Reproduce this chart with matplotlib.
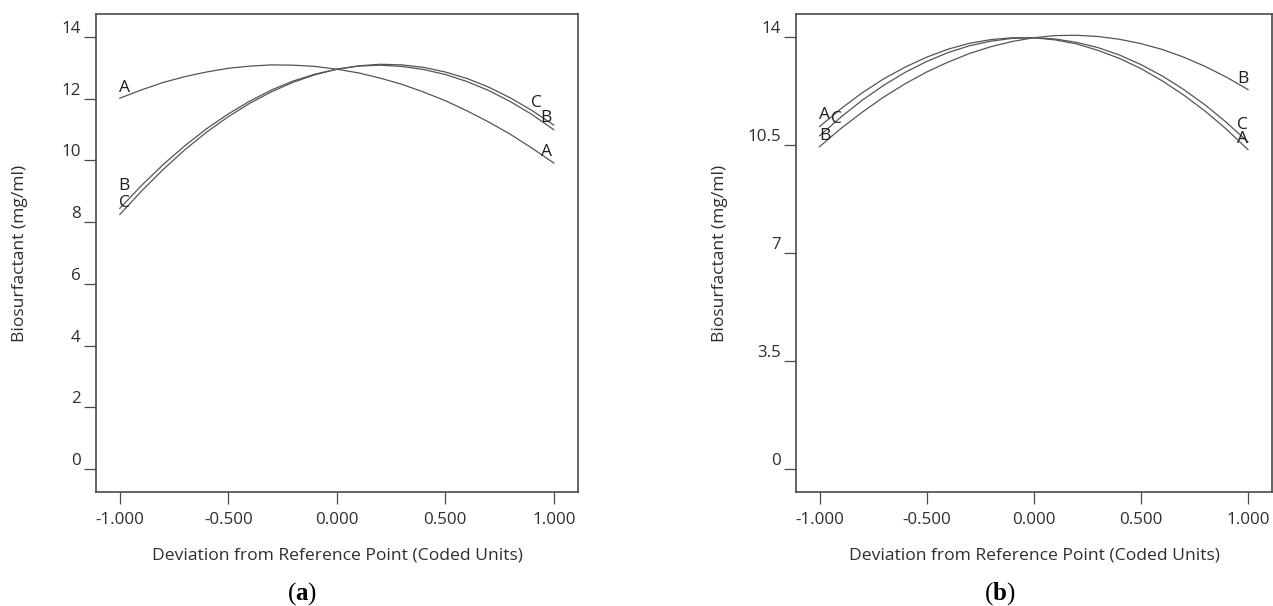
import numpy as np
import matplotlib
matplotlib.use('Agg')
import matplotlib.pyplot as plt

plt.rcParams['font.family'] = ['Open Sans', 'DejaVu Sans']
plt.rcParams['mathtext.fontset'] = 'custom'
plt.rcParams['mathtext.rm'] = 'Liberation Serif'
plt.rcParams['mathtext.bf'] = 'Liberation Serif:bold'

# <============DATA============>#

x_coded = [-1.0, -0.9, -0.8, -0.7, -0.6, -0.5, -0.4, -0.3, -0.2, -0.1, 0.0,
           0.1, 0.2, 0.3, 0.4, 0.5, 0.6, 0.7, 0.8, 0.9, 1.0]

# panel (a)
a_A = [12.02, 12.29, 12.53, 12.72, 12.87, 12.99, 13.06, 13.10, 13.09, 13.05, 12.96,
       12.84, 12.67, 12.47, 12.22, 11.94, 11.61, 11.25, 10.85, 10.40, 9.92]
a_B = [8.45, 9.19, 9.87, 10.48, 11.03, 11.51, 11.93, 12.29, 12.58, 12.80, 12.96,
       13.06, 13.09, 13.05, 12.95, 12.79, 12.56, 12.27, 11.91, 11.49, 11.00]
a_C = [8.25, 9.01, 9.71, 10.35, 10.92, 11.42, 11.86, 12.23, 12.54, 12.78, 12.96,
       13.07, 13.12, 13.10, 13.02, 12.87, 12.66, 12.38, 12.03, 11.62, 11.15]

# panel (b)
b_A = [11.10, 11.68, 12.20, 12.65, 13.03, 13.35, 13.61, 13.80, 13.92, 13.98, 13.98,
       13.91, 13.78, 13.57, 13.31, 12.98, 12.58, 12.12, 11.60, 11.01, 10.35]
b_B = [10.45, 11.04, 11.57, 12.06, 12.49, 12.87, 13.19, 13.47, 13.69, 13.86, 13.98,
       14.05, 14.06, 14.02, 13.93, 13.79, 13.60, 13.35, 13.05, 12.70, 12.30]
b_C = [10.80, 11.41, 11.96, 12.44, 12.86, 13.21, 13.50, 13.72, 13.87, 13.96, 13.98,
       13.94, 13.83, 13.66, 13.42, 13.11, 12.74, 12.30, 11.80, 11.23, 10.60]

x_ticks = [-1.0, -0.5, 0.0, 0.5, 1.0]
a_yticks = [0, 2, 4, 6, 8, 10, 12, 14]
b_yticks = [0, 3.5, 7, 10.5, 14]
b_yticklabels = ['0', '3.5', '7', '10.5', '14']

# curve labels: (letter, x, y)
a_marks = [('A', -0.98, 12.35), ('B', -0.98, 9.16), ('C', -0.98, 8.62),
           ('C', 0.92, 11.88), ('B', 0.965, 11.38), ('A', 0.965, 10.28)]
b_marks = [('A', -0.975, 11.46), ('C', -0.92, 11.35), ('B', -0.975, 10.79),
           ('B', 0.975, 12.63), ('C', 0.975, 11.15), ('A', 0.975, 10.70)]

# <============PLOTING============>#

W, H = 1273, 606
fig = plt.figure(figsize=(W / 100, H / 100), dpi=100)
line_col = '#555555'
spine_col = '#4a4a4a'
text_col = '#2e2e2e'


def panel(rect, curves, marks, yticks, yticklabels, caption):
    ax = fig.add_axes(rect)
    for ys in curves:
        ax.plot(x_coded, ys, color=line_col, lw=0.9, solid_joinstyle='round')
    for letter, tx, ty in marks:
        ax.text(tx, ty, letter, ha='center', va='center', fontsize=12.5,
                color='#1e1e1e')
    ax.set_xlim(-1.11, 1.112)
    ax.set_ylim(-0.75, 14.75)
    ax.set_xticks(x_ticks)
    ax.set_xticklabels(['%.3f' % v for v in x_ticks])
    ax.set_yticks(yticks)
    ax.set_yticklabels(yticklabels)
    for lbl in ax.get_yticklabels():
        lbl.set_va('bottom')
    for s in ax.spines.values():
        s.set_color(spine_col)
        s.set_linewidth(1.2)
    ax.tick_params(axis='y', length=8.6, width=0.9, color=spine_col,
                   pad=2.4, labelsize=12.2, labelcolor=text_col)
    ax.tick_params(axis='x', length=8.6, width=0.9, color=spine_col,
                   pad=6, labelsize=12.2, labelcolor=text_col)
    l, b, w, h = rect
    fig.text(l + w / 2, 1 - 555 / H, 'Deviation from Reference Point (Coded Units)',
             ha='center', va='center', fontsize=12.6, color=text_col)
    fig.text(l - 76 / W, b + h / 2, 'Biosurfactant (mg/ml)', rotation=90,
             ha='center', va='center', fontsize=12.6, color=text_col)
    fig.text(caption[1] / W, 1 - 594 / H, r'$\mathrm{(}\mathbf{%s}\mathrm{)}$' % caption[0],
             ha='center', va='center', fontsize=18, color='black')
    return ax


ax1 = panel([96 / W, (H - 492) / H, 482 / W, 478 / H], [a_A, a_B, a_C], a_marks,
            a_yticks, [str(v) for v in a_yticks], ('a', 302))
ax2 = panel([796 / W, (H - 492) / H, 476 / W, 478 / H], [b_A, b_B, b_C], b_marks,
            b_yticks, b_yticklabels, ('b', 1000))

fig.savefig('out.png', dpi=100)
